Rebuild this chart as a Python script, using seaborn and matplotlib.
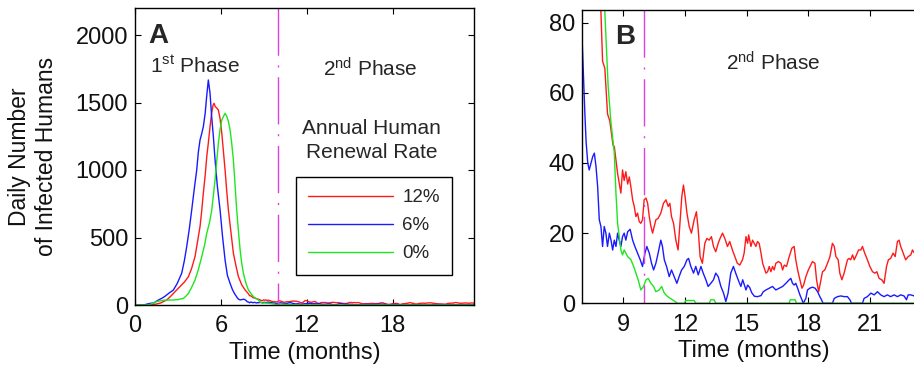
import matplotlib
matplotlib.use("Agg")
import matplotlib.pyplot as plt
import numpy as np
import pandas as pd
import seaborn as sns

# ---------------- data ----------------
# (time in months, daily number of infected humans)
rates = ["12%", "6%", "0%"]
colors = ["#ff1a1a", "#1a1aff", "#1ee61e"]

series_12 = [
    (0, 0), (0.6, 0), (1.0, 2), (1.4, 5), (1.8, 15), (2.21, 37), (2.45, 60), (2.68, 86),
    (2.9, 110), (3.14, 136), (3.45, 170), (3.73, 210), (3.95, 270), (4.19, 358), (4.35, 460),
    (4.54, 580), (4.66, 700), (4.77, 827), (4.9, 960), (5.01, 1099), (5.12, 1200), (5.24, 1321),
    (5.35, 1420), (5.45, 1480), (5.52, 1494), (5.6, 1470), (5.7, 1460), (5.82, 1444), (5.94, 1380),
    (6.06, 1272), (6.17, 1140), (6.29, 1000), (6.4, 850), (6.52, 704), (6.7, 540), (6.87, 383),
    (7.05, 290), (7.22, 210), (7.45, 150), (7.69, 111), (7.92, 83), (8.0, 69), (8.11, 67),
    (8.24, 54), (8.35, 52), (8.51, 45), (8.57, 44.7), (8.65, 40.9), (8.73, 37), (8.81, 34.2),
    (8.89, 31.4), (8.97, 38), (9.05, 35), (9.13, 37.5), (9.22, 34), (9.3, 36), (9.38, 33),
    (9.46, 29.5), (9.54, 27.6), (9.62, 24.7), (9.7, 25.7), (9.78, 23.3), (9.86, 22.8), (9.94, 23.8),
    (10.02, 29.5), (10.11, 30), (10.19, 28.5), (10.27, 24.7), (10.35, 21.9), (10.43, 20),
    (10.51, 21.9), (10.59, 23.8), (10.7, 24.2), (10.83, 25.7), (10.96, 28.5), (11.08, 29.5),
    (11.19, 27.6), (11.27, 28.5), (11.35, 24.7), (11.45, 22.8), (11.56, 18), (11.67, 15.2),
    (11.75, 21.9), (11.85, 30.4), (11.93, 33.7), (12.01, 30.4), (12.1, 25.7), (12.21, 21.9),
    (12.32, 20), (12.45, 23.8), (12.56, 26.1), (12.65, 20.9), (12.74, 13.3), (12.85, 11.4),
    (12.97, 17.1), (13.07, 18.5), (13.18, 18), (13.29, 19), (13.39, 16.2), (13.5, 14.7),
    (13.62, 17.1), (13.71, 18.5), (13.83, 20), (13.94, 18.5), (14.07, 16.2), (14.18, 17.6),
    (14.31, 15.2), (14.43, 13.3), (14.55, 11.4), (14.67, 10.9), (14.8, 12.4), (14.88, 14.3),
    (14.97, 19), (15.05, 17.1), (15.1, 19.5), (15.21, 16.2), (15.29, 18), (15.37, 17.1),
    (15.45, 16.2), (15.53, 17.6), (15.61, 17.1), (15.7, 14.3), (15.78, 11.4), (15.86, 10),
    (15.94, 8.6), (16.02, 9), (16.1, 10.5), (16.18, 9), (16.26, 10.5), (16.34, 9.5), (16.42, 11.4),
    (16.55, 11.9), (16.67, 11.4), (16.75, 9.5), (16.83, 10.9), (16.94, 10.5), (17.07, 13.3),
    (17.2, 15.7), (17.31, 16.2), (17.39, 12.4), (17.48, 9.5), (17.59, 6.7), (17.69, 4.3),
    (17.77, 5.2), (17.88, 7.6), (18.0, 9.5), (18.12, 10.9), (18.2, 11.9), (18.32, 11.4),
    (18.4, 6.7), (18.5, 3.3), (18.58, 5.7), (18.69, 9), (18.8, 9.5), (18.93, 11.4), (19.05, 13.3),
    (19.17, 17.1), (19.26, 16.2), (19.34, 13.3), (19.45, 12.4), (19.53, 8.6), (19.63, 6.7),
    (19.74, 8.6), (19.82, 10.5), (19.9, 12.4), (19.98, 12.8), (20.06, 12.4), (20.15, 13.8),
    (20.23, 12.4), (20.34, 13.8), (20.44, 15.2), (20.55, 15.2), (20.63, 16.2), (20.74, 14.3),
    (20.87, 12.4), (20.99, 10.5), (21.12, 9), (21.23, 8.6), (21.33, 9), (21.44, 7.1),
    (21.57, 6.7), (21.68, 5.7), (21.8, 10.5), (21.89, 12.4), (22.0, 12.8), (22.12, 14.3),
    (22.22, 13.3), (22.33, 17.6), (22.41, 18), (22.49, 16.2), (22.61, 14.3), (22.73, 12.4),
    (22.85, 13.3), (22.98, 13.8), (23.06, 15.2), (23.3, 13), (23.5, 15), (23.67, 14),
]

series_6 = [
    (0, 0), (0.58, 0), (1.05, 12), (1.3, 15), (1.6, 35), (1.86, 49), (2.1, 65), (2.4, 90),
    (2.68, 111), (2.95, 160), (3.26, 235), (3.45, 330), (3.61, 432), (3.8, 570), (3.96, 704),
    (4.15, 870), (4.31, 1000), (4.42, 1130), (4.54, 1222), (4.66, 1270), (4.77, 1321), (4.9, 1420),
    (5.0, 1540), (5.12, 1667), (5.24, 1568), (5.35, 1400), (5.47, 1250), (5.59, 1074), (5.75, 880),
    (5.94, 704), (6.1, 520), (6.29, 333), (6.45, 220), (6.64, 160), (6.8, 115), (6.95, 84),
    (7.05, 68), (7.14, 54), (7.2, 46), (7.28, 40), (7.35, 38), (7.44, 40), (7.52, 41.8),
    (7.6, 42.8), (7.68, 39), (7.76, 33.3), (7.84, 23.8), (7.92, 21.9), (8.0, 16.2), (8.08, 21.9),
    (8.16, 20), (8.24, 16.2), (8.33, 20), (8.41, 18), (8.49, 15.2), (8.57, 18), (8.65, 16.2),
    (8.73, 20), (8.81, 18), (8.89, 16.2), (8.97, 19), (9.05, 20), (9.13, 18), (9.22, 20.4),
    (9.34, 21.1), (9.46, 18), (9.57, 16.2), (9.7, 14.3), (9.83, 12.4), (9.94, 10.5), (10.06, 14.3),
    (10.15, 16.2), (10.27, 14.3), (10.38, 11.4), (10.48, 9.5), (10.59, 11.4), (10.7, 14.3),
    (10.83, 18), (10.91, 16.2), (11.0, 12.4), (11.11, 10.5), (11.24, 7.6), (11.35, 9.5),
    (11.48, 7.6), (11.61, 5.7), (11.72, 7.6), (11.84, 9.5), (11.97, 10.5), (12.1, 12.4),
    (12.18, 12.8), (12.29, 10.5), (12.42, 8.6), (12.53, 10.5), (12.65, 8.1), (12.78, 10.5),
    (12.89, 8.6), (13.02, 6.7), (13.13, 4.8), (13.26, 5.7), (13.39, 6.7), (13.5, 8.6), (13.62, 7.6),
    (13.75, 4.8), (13.88, 2.9), (13.99, 0.5), (14.1, 2.9), (14.23, 8.6), (14.36, 10.5),
    (14.47, 8.6), (14.59, 6.7), (14.72, 4.8), (14.81, 6.7), (14.89, 5.2), (14.97, 3.8),
    (15.05, 5.2), (15.15, 4.5), (15.25, 3.0), (15.38, 2.0), (15.53, 1.9), (15.7, 2.2),
    (15.81, 3.3), (15.94, 3.8), (16.1, 4.3), (16.26, 4.8), (16.42, 3.8), (16.59, 4.3),
    (16.75, 4.8), (16.91, 5.7), (17.07, 6.7), (17.15, 7.1), (17.23, 5.7), (17.31, 5.2),
    (17.39, 5.7), (17.48, 4.3), (17.59, 2.4), (17.69, 1), (17.75, 0), (17.88, 1.4), (17.96, 3.8),
    (18.07, 4.3), (18.2, 4.6), (18.33, 4.3), (18.45, 3.3), (18.56, 1.9), (18.64, 1), (18.72, 0),
    (19.17, 0), (19.26, 1.4), (19.42, 1.9), (19.58, 2.1), (19.74, 1.9), (19.9, 1.9), (20.02, 1),
    (20.1, 0), (20.63, 0), (20.71, 1.4), (20.87, 1.9), (21.04, 2.9), (21.2, 2.4), (21.36, 3.3),
    (21.52, 2.4), (21.68, 1.9), (21.84, 2.4), (22.0, 1.9), (22.17, 2.4), (22.33, 1.9),
    (22.49, 2.4), (22.65, 2.1), (22.77, 1), (22.85, 2.4), (22.98, 2.4), (23.2, 2), (23.45, 2.4),
    (23.67, 2),
]

series_0 = [
    (0, 0), (0.9, 0), (1.2, 10), (1.5, 25), (1.98, 35), (2.4, 37), (2.68, 37), (3.0, 40),
    (3.2, 45), (3.38, 49), (3.55, 65), (3.73, 86), (3.95, 130), (4.19, 185), (4.42, 260),
    (4.66, 358), (4.85, 440), (5.01, 531), (5.2, 610), (5.36, 704), (5.47, 810), (5.59, 926),
    (5.7, 1060), (5.82, 1198), (5.94, 1300), (6.06, 1370), (6.17, 1395), (6.29, 1420), (6.4, 1400),
    (6.52, 1360), (6.64, 1296), (6.75, 1200), (6.87, 1074), (6.98, 900), (7.1, 704), (7.22, 550),
    (7.34, 407), (7.45, 310), (7.57, 235), (7.75, 160), (7.92, 111), (8.11, 83), (8.27, 62),
    (8.4, 52), (8.52, 45.5), (8.57, 42.8), (8.65, 31.4), (8.73, 22.8), (8.81, 19), (8.89, 15.2),
    (8.97, 13.8), (9.05, 15.2), (9.13, 14.3), (9.22, 13.3), (9.38, 12.4), (9.51, 10.5),
    (9.62, 8.6), (9.73, 6.7), (9.86, 3.8), (9.99, 4.8), (10.11, 6.7), (10.22, 7.1), (10.35, 5.7),
    (10.48, 4.8), (10.59, 3.3), (10.75, 3.8), (10.87, 4.8), (11.0, 2.9), (11.16, 1.9),
    (11.4, 1), (11.64, 0), (11.97, 0), (12.05, 0.8), (12.45, 0.8), (12.53, 0), (13.18, 0),
    (13.26, 1), (13.42, 1), (13.5, 0), (17.07, 0), (17.12, 1), (17.36, 1), (17.42, 0),
    (23.67, 0),
]

phase_boundary = 10  # months

xlim_a = (0, 23.67)
ylim_a = (0, 2200)
xticks_a = [0, 6, 12, 18]
yticks_a = [0, 500, 1000, 1500, 2000]

xlim_b = (7, 23.67)
ylim_b = (0, 83.6)
xticks_b = [9, 12, 15, 18, 21]
yticks_b = [0, 20, 40, 60, 80]

# ---------------- style ----------------
sns.set_theme(style="white")
FONT = "Liberation Sans"
plt.rcParams["font.family"] = [FONT, "DejaVu Sans"]
plt.rcParams["mathtext.fontset"] = "custom"
plt.rcParams["mathtext.rm"] = FONT
plt.rcParams["mathtext.it"] = FONT + ":italic"
plt.rcParams["mathtext.bf"] = FONT + ":bold"

frames = []
for pts, r in [(series_12, rates[0]), (series_6, rates[1]), (series_0, rates[2])]:
    t, n = zip(*pts)
    frames.append(pd.DataFrame({"t": t, "n": n, "rate": r}))
df = pd.concat(frames, ignore_index=True)
palette = dict(zip(rates, colors))

W, H = 914, 375
fig = plt.figure(figsize=(W / 100, H / 100), dpi=100)
fig.patch.set_facecolor("white")
axA = fig.add_axes([135 / W, 1 - 305 / H, 339 / W, 297 / H])
axB = fig.add_axes([582 / W, 1 - 303.3 / H, 343 / W, 293.3 / H])

LBL = 17
for ax, xl, yl, xt, yt in [(axA, xlim_a, ylim_a, xticks_a, yticks_a),
                           (axB, xlim_b, ylim_b, xticks_b, yticks_b)]:
    sns.lineplot(data=df, x="t", y="n", hue="rate", hue_order=rates,
                 palette=palette, estimator=None, sort=False, legend=False,
                 ax=ax, linewidth=1.0)
    ax.plot([phase_boundary, phase_boundary], [1, 0],
            transform=ax.get_xaxis_transform(), color="#e040e0",
            linewidth=1.0, linestyle=(0, (34, 7, 1.5, 7)))
    ax.set_xlim(*xl)
    ax.set_ylim(*yl)
    ax.set_xticks(xt)
    ax.set_yticks(yt)
    ax.set_facecolor("white")
    for s in ax.spines.values():
        s.set_visible(True)
        s.set_color("black")
        s.set_linewidth(1.0)
    ax.tick_params(direction="in", top=True, right=True, bottom=True, left=True,
                   length=4, width=0.8, color="black", labelsize=LBL,
                   labelcolor="#111111")
    ax.tick_params(axis="x", pad=7.5)
    ax.tick_params(axis="y", pad=5)
    ax.set_xlabel("Time (months)", fontsize=LBL, labelpad=3, color="#111111")
    ax.set_ylabel("")

axA.set_ylabel("Daily Number\nof Infected Humans", fontsize=16.5,
               linespacing=1.25, color="#111111")
axA.yaxis.set_label_coords(-0.227, 0.5)

# panel letters and annotations
axA.text(0.038, 0.905, "A", transform=axA.transAxes, fontsize=20,
         fontweight="bold", ha="left", va="center")
axA.text(0.177, 0.804, r"1$^{\mathrm{st}}$ Phase", transform=axA.transAxes,
         fontsize=15, ha="center", va="center")
axA.text(0.693, 0.794, r"2$^{\mathrm{nd}}$ Phase", transform=axA.transAxes,
         fontsize=15, ha="center", va="center")
axA.text(0.697, 0.554, "Annual Human\nRenewal Rate", transform=axA.transAxes,
         fontsize=15, ha="center", va="center", linespacing=1.3)

leg = axA.legend(handles=axA.lines[:3], labels=rates, loc="upper left",
                 bbox_to_anchor=(0.475, 0.432), borderaxespad=0, frameon=True,
                 fancybox=False, edgecolor="black", framealpha=1, fontsize=13.5,
                 handlelength=4.5, handletextpad=0.5, labelspacing=0.58,
                 borderpad=0.66)
leg.get_frame().set_linewidth(1.0)

axB.text(0.096, 0.908, "B", transform=axB.transAxes, fontsize=20,
         fontweight="bold", ha="left", va="center")
axB.text(0.559, 0.819, r"2$^{\mathrm{nd}}$ Phase", transform=axB.transAxes,
         fontsize=15, ha="center", va="center")

fig.savefig("out.png", dpi=100, facecolor="white")
